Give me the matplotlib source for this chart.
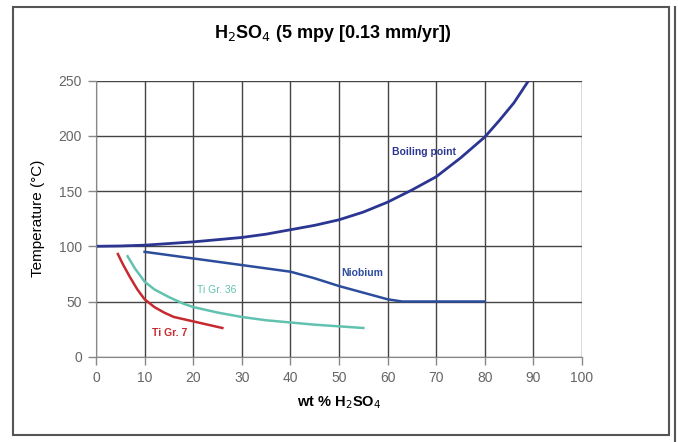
import matplotlib.pyplot as plt
import matplotlib.patches as patches
import numpy as np

plt.rcParams['font.family'] = ['Liberation Sans', 'DejaVu Sans']

bp_x = [0, 5, 10, 15, 20, 25, 30, 35, 40, 45, 50, 55, 60, 65, 70, 75, 80, 83, 86, 89]
bp_y = [100, 100.3, 101, 102.5, 104, 106, 108, 111, 115, 119, 124, 131, 140, 151, 163, 180, 199, 214, 230, 250]

nb_x = [10, 20, 30, 40, 45, 50, 55, 60, 63, 80]
nb_y = [95, 89, 83, 77, 71, 64, 58, 52, 50, 50]

ti7_x = [4.5, 5.5, 7, 8.5, 10, 12, 14, 16, 18, 20, 23, 26]
ti7_y = [93, 84, 72, 61, 52, 45, 40, 36, 34, 32, 29, 26]

ti36_x = [6.5, 8, 10, 12, 15, 18, 20, 25, 30, 35, 40, 45, 50, 55]
ti36_y = [91, 80, 68, 61, 54, 48, 45, 40, 36, 33, 31, 29, 27.5, 26]

xticks = list(range(0, 101, 10))
yticks = list(range(0, 251, 50))

fig = plt.figure(figsize=(6.78, 4.42), dpi=100)
ax = fig.add_axes([96 / 678, 1 - 356.7 / 442, 486 / 678, 276 / 442])

ax.plot(bp_x, bp_y, color='#2b3592', lw=2)
ax.plot(nb_x, nb_y, color='#2c4c9c', lw=1.8)
ax.plot(ti7_x, ti7_y, color='#c62a2f', lw=1.8)
ax.plot(ti36_x, ti36_y, color='#62c2b0', lw=1.8)

ax.text(67.5, 185, 'Boiling point', color='#2b3592', fontsize=7.5, fontweight='bold', ha='center', va='center')
ax.text(54.7, 76, 'Niobium', color='#2c4c9c', fontsize=7.5, fontweight='bold', ha='center', va='center')
ax.text(24.9, 60, 'Ti Gr. 36', color='#62c2b0', fontsize=7.5, ha='center', va='center')
ax.text(15.2, 21.5, 'Ti Gr. 7', color='#c62a2f', fontsize=7.5, fontweight='bold', ha='center', va='center')

ax.set_xlim(0, 100)
ax.set_ylim(0, 250)
ax.set_xticks(xticks)
ax.set_yticks(yticks)
ax.grid(True, color='#444444', lw=1)
ax.set_axisbelow(True)
for s in ['top', 'right']:
    ax.spines[s].set_visible(False)
for s in ['left', 'bottom']:
    ax.spines[s].set_color('#888888')
ax.tick_params(colors='#888888', labelcolor='#666666', labelsize=10, length=6, width=1, pad=4)

ax.set_xlabel('wt % H$_2$SO$_4$', fontsize=10.5, fontweight='bold', labelpad=7)
ax.set_ylabel('Temperature (°C)', fontsize=11, labelpad=10)
fig.suptitle('H$_2$SO$_4$ (5 mpy [0.13 mm/yr])', x=0.491, y=0.948, fontsize=13, fontweight='bold')

# outer frame
fig.patches.append(patches.Rectangle((13 / 678, 1 - 435 / 442), 656 / 678, 428 / 442,
                                     transform=fig.transFigure, fill=False, ec='#555555', lw=1.5))
fig.lines.append(plt.Line2D([675 / 678, 675 / 678], [1 - 442 / 442, 1 - 7 / 442],
                            transform=fig.transFigure, color='#555555', lw=1.5))

fig.savefig('out.png', dpi=100)
